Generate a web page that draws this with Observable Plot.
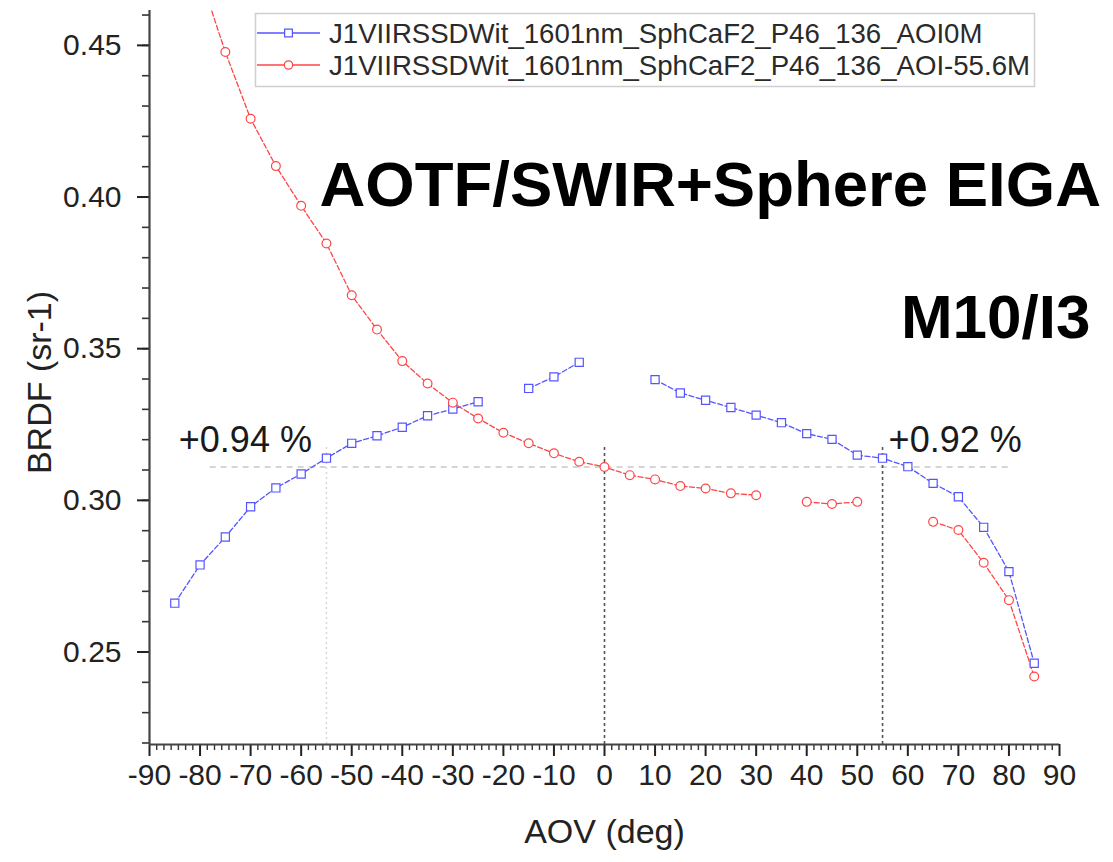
<!DOCTYPE html>
<html>
<head>
<meta charset="utf-8">
<script src="https://cdn.jsdelivr.net/npm/d3@7"></script>
<script src="https://cdn.jsdelivr.net/npm/@observablehq/plot@0.6"></script>
<style>
  html, body { margin: 0; padding: 0; background: #fff; }
  #wrap { position: relative; width: 1113px; height: 862px; overflow: hidden; }
  #wrap svg { position: absolute; left: 0; top: 0; }
  #legend { pointer-events: none; }
</style>
</head>
<body>
<div id="wrap"></div>
<script>
// Angle of view (deg) sampled every 5 degrees
const aov = [-85, -80, -75, -70, -65, -60, -55, -50, -45, -40, -35, -30, -25, -20, -15, -10, -5,
             0, 5, 10, 15, 20, 25, 30, 35, 40, 45, 50, 55, 60, 65, 70, 75, 80, 85];

// BRDF (sr-1), AOI 0 (null = no measurement)
const brdfAoi0 = [0.2661, 0.2787, 0.2879, 0.2979, 0.3041, 0.3087, 0.3139, 0.3188, 0.3213, 0.3241,
                  0.3279, 0.3301, 0.3325, null, 0.3369, 0.3407, 0.3455,
                  null, null, 0.3398, 0.3354, 0.3330, 0.3306, 0.3281, 0.3256, 0.3220, 0.3201, 0.3149,
                  0.3139, 0.3111, 0.3056, 0.3012, 0.2911, 0.2765, 0.2463];

// BRDF (sr-1), AOI -55.6
const brdfAoi556 = [null, 0.4730, 0.4478, 0.4258, 0.4102, 0.3971, 0.3847, 0.3676, 0.3563, 0.3459,
                    0.3385, 0.3322, 0.3270, 0.3223, 0.3188, 0.3155, 0.3127,
                    0.3110, 0.3083, 0.3069, 0.3047, 0.3039, 0.3023, 0.3017, null, 0.2995, 0.2988, 0.2995,
                    null, null, 0.2929, 0.2902, 0.2794, 0.2671, 0.2419];

const seriesNames = ["J1VIIRSSDWit_1601nm_SphCaF2_P46_136_AOI0M",
                     "J1VIIRSSDWit_1601nm_SphCaF2_P46_136_AOI-55.6M"];
const seriesColors = ["#5555ff", "#ff4545"];
const seriesSymbols = ["square", "circle"];

// Axis ticks
const xDomain = [-90, 90];
const yDomain = [0.2195, 0.4615];
const xMajor = d3.range(-90, 91, 10);
const xMinor = d3.range(-90, 90, 10).flatMap(v => d3.range(1, 7).map(k => v + k * 10 / 7));
const yMajor = [0.25, 0.30, 0.35, 0.40, 0.45];
const yMinor = d3.range(22, 47).map(v => v / 100);

// Reference lines: nadir value and the +/-55 deg comparison
const nadirBrdf = 0.311;
const nadirSpan = [-78, 80];
const faintRefAov = [-55];
const darkRefAov = [0, 55];
const refTop = 0.318;

// Percent differences at +/-55 deg
const noteText = ["+0.94 %", "+0.92 %"];
const noteAov = [-84.2, 56.2];
const noteBrdf = 0.3198;

const titleText = ["AOTF/SWIR+Sphere EIGA", "M10/I3"];

const series = [brdfAoi0, brdfAoi556].map((vals, s) =>
  aov.map((a, i) => ({aov: a, brdf: vals[i], series: seriesNames[s]})));

const font = "'Liberation Sans', Arial, Helvetica, sans-serif";
const blank = () => "";
const hyphenFormat = d => (d < 0 ? "-" : "") + Math.abs(d);

const chart = Plot.plot({
  width: 1113,
  height: 862,
  marginLeft: 149,
  marginRight: 54,
  marginTop: 10,
  marginBottom: 118,
  style: {fontFamily: font, background: "white", overflow: "visible"},
  x: {domain: xDomain, label: null},
  y: {domain: yDomain, label: null},
  marks: [
    // reference lines
    Plot.ruleY([nadirBrdf], {x1: nadirSpan[0], x2: nadirSpan[1], stroke: "#c8c8c8", strokeWidth: 1.5, strokeDasharray: "6,5"}),
    Plot.ruleX(faintRefAov, {y1: yDomain[0], y2: refTop, stroke: "#d6d6d6", strokeWidth: 1.5, strokeDasharray: "2,3"}),
    Plot.ruleX(darkRefAov, {y1: yDomain[0], y2: refTop, stroke: "#555", strokeWidth: 1.6, strokeDasharray: "3,3"}),

    // data
    ...series.map((rows, s) => Plot.line(rows, {x: "aov", y: "brdf", stroke: seriesColors[s],
      strokeWidth: 1.3, strokeDasharray: "5,2.5", clip: true})),
    ...series.map((rows, s) => Plot.dot(rows, {x: "aov", y: "brdf", symbol: seriesSymbols[s],
      r: s === 0 ? 4.6 : 4.4, stroke: seriesColors[s], strokeWidth: 1.2, fill: "white", clip: true})),

    // axes
    Plot.axisY({ticks: yMinor, tickSize: 7, tickFormat: blank, color: "#333", strokeWidth: 1.6}),
    Plot.axisY({ticks: yMajor, tickSize: 12, tickPadding: 16, tickFormat: d3.format(".2f"),
      fontSize: 30, color: "#222", strokeWidth: 2, label: null}),
    Plot.axisX({ticks: xMinor, tickSize: 6, tickFormat: blank, color: "#333", strokeWidth: 1.4}),
    Plot.axisX({ticks: xMajor, tickSize: 12, tickPadding: 7, fontSize: 30, color: "#222",
      tickFormat: hyphenFormat, strokeWidth: 2, label: null}),
    Plot.ruleY([yDomain[0]], {stroke: "#444", strokeWidth: 2.2}),
    Plot.ruleX([xDomain[0]], {stroke: "#444", strokeWidth: 2.2}),

    // axis titles
    Plot.text(["AOV (deg)"], {frameAnchor: "bottom", lineAnchor: "middle", dy: 88, fontSize: 34, fill: "#222"}),
    Plot.text(["BRDF (sr-1)"], {frameAnchor: "left", textAnchor: "middle", lineAnchor: "middle",
      dx: -109, dy: 5, rotate: -90, fontSize: 34, fill: "#222"}),

    // percent-difference notes
    Plot.text(noteText, {x: (d, i) => noteAov[i], y: noteBrdf, textAnchor: "start", fontSize: 36, fill: "#1a1a1a"}),

    // headline text
    Plot.text([titleText[0]], {frameAnchor: "top-left", dx: 170, dy: 150, lineAnchor: "top",
      fontSize: 63.5, fontWeight: "bold", fill: "#000"}),
    Plot.text([titleText[1]], {frameAnchor: "top-right", dx: 31, dy: 283, lineAnchor: "top",
      textAnchor: "end", fontSize: 62, fontWeight: "bold", fill: "#000"})
  ]
});

const wrap = document.getElementById("wrap");
wrap.appendChild(chart);

// Legend box in the upper part of the plot area
const ns = "http://www.w3.org/2000/svg";
const lg = document.createElementNS(ns, "svg");
lg.setAttribute("id", "legend");
lg.setAttribute("width", 1113);
lg.setAttribute("height", 862);
const box = {x: 255.5, y: 13.5, w: 779, h: 73, rowY: [33, 65], lineX: [257, 320], textX: 329};
const rect = document.createElementNS(ns, "rect");
Object.entries({x: box.x, y: box.y, width: box.w, height: box.h, fill: "white", stroke: "#cfcfcf", "stroke-width": 1.5})
  .forEach(([k, v]) => rect.setAttribute(k, v));
lg.appendChild(rect);
seriesNames.forEach((name, s) => {
  const y = box.rowY[s];
  const ln = document.createElementNS(ns, "line");
  Object.entries({x1: box.lineX[0], x2: box.lineX[1], y1: y, y2: y, stroke: seriesColors[s], "stroke-width": 1.3})
    .forEach(([k, v]) => ln.setAttribute(k, v));
  lg.appendChild(ln);
  const cx = (box.lineX[0] + box.lineX[1]) / 2;
  const mk = document.createElementNS(ns, "path");
  const sym = d3.symbol(seriesSymbols[s] === "square" ? d3.symbolSquare : d3.symbolCircle, s === 0 ? 60 : 55);
  mk.setAttribute("d", sym());
  mk.setAttribute("transform", `translate(${cx},${y})`);
  mk.setAttribute("fill", "white");
  mk.setAttribute("stroke", seriesColors[s]);
  mk.setAttribute("stroke-width", 1.2);
  lg.appendChild(mk);
  const tx = document.createElementNS(ns, "text");
  tx.setAttribute("x", box.textX);
  tx.setAttribute("y", y);
  tx.setAttribute("dy", "0.35em");
  tx.setAttribute("font-family", font);
  tx.setAttribute("font-size", 27.6);
  tx.setAttribute("fill", "#2a2a2a");
  tx.textContent = name;
  lg.appendChild(tx);
});
wrap.appendChild(lg);
</script>
</body>
</html>
